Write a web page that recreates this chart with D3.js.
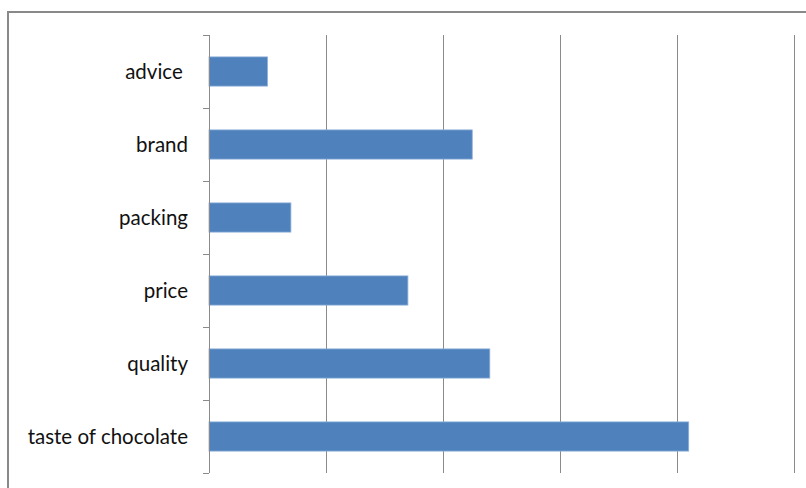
<!DOCTYPE html>
<html>
<head>
<meta charset="utf-8">
<script src="https://cdn.jsdelivr.net/npm/d3@7"></script>
<style>
  body { margin: 0; background: #fff; }
  svg { display: block; }
  .label { font-family: Lato, "Open Sans", sans-serif; font-size: 20.5px; fill: #111; white-space: pre; }
</style>
</head>
<body>
<div class="bar-chart-container"></div>
<script>
// chart data
const categories = ['advice ', 'brand', 'packing', 'price', 'quality', 'taste of chocolate'];
const values = [5, 22.5, 7, 17, 24, 41];
const gridTicks = [0, 10, 20, 30, 40, 50];

const data = categories.map((c, i) => ({ name: c, value: values[i] }));

// layout
const W = 806, H = 488;
const margin = { top: 35, left: 209, right: 12, bottom: 15 };
const width = 794 - margin.left;
const height = 473 - margin.top;

const svg = d3.select('.bar-chart-container')
  .append('svg')
  .attr('width', W)
  .attr('height', H);

// outer frame
svg.append('rect')
  .attr('x', 8).attr('y', 12)
  .attr('width', W + 20).attr('height', H + 20)
  .attr('fill', '#fff')
  .attr('stroke', '#898989')
  .attr('stroke-width', 2);

const g = svg.append('g')
  .attr('transform', `translate(${margin.left}, ${margin.top})`);

const xScale = d3.scaleLinear()
  .domain([0, 50])
  .range([0, width]);

const yScale = d3.scaleBand()
  .domain(categories)
  .range([0, height])
  .paddingInner(0.6)
  .paddingOuter(0.3);

// vertical gridlines
g.append('g')
  .selectAll('line')
  .data(gridTicks.slice(1))
  .join('line')
  .attr('x1', d => Math.round(xScale(d)) + 0.5)
  .attr('x2', d => Math.round(xScale(d)) + 0.5)
  .attr('y1', 0)
  .attr('y2', height)
  .attr('stroke', '#8a8a8a')
  .attr('stroke-width', 1);

// bars
g.selectAll('.bar')
  .data(data)
  .join('rect')
  .attr('class', 'bar')
  .attr('x', 0)
  .attr('y', d => yScale(d.name))
  .attr('width', d => xScale(d.value))
  .attr('height', yScale.bandwidth())
  .attr('fill', '#4f81bd')
  .attr('stroke', '#8eb0da')
  .attr('stroke-width', 0.8);

// category axis
const yAxis = d3.axisLeft(yScale).tickSize(0).tickPadding(21);
const yAxisDraw = g.append('g')
  .attr('class', 'y axis')
  .call(yAxis);
yAxisDraw.select('.domain').remove();
yAxisDraw.selectAll('text')
  .attr('class', 'label')
  .attr('fill', '#111')
  .attr('dy', '0.38em');

// axis line and band ticks
const step = height / categories.length;
g.append('line')
  .attr('x1', 0.5).attr('x2', 0.5)
  .attr('y1', 0).attr('y2', height)
  .attr('stroke', '#8a8a8a');
g.append('g')
  .selectAll('line')
  .data(d3.range(categories.length + 1))
  .join('line')
  .attr('x1', -6).attr('x2', 0)
  .attr('y1', i => Math.round(i * step) + 0.5)
  .attr('y2', i => Math.round(i * step) + 0.5)
  .attr('stroke', '#8a8a8a');
</script>
</body>
</html>
